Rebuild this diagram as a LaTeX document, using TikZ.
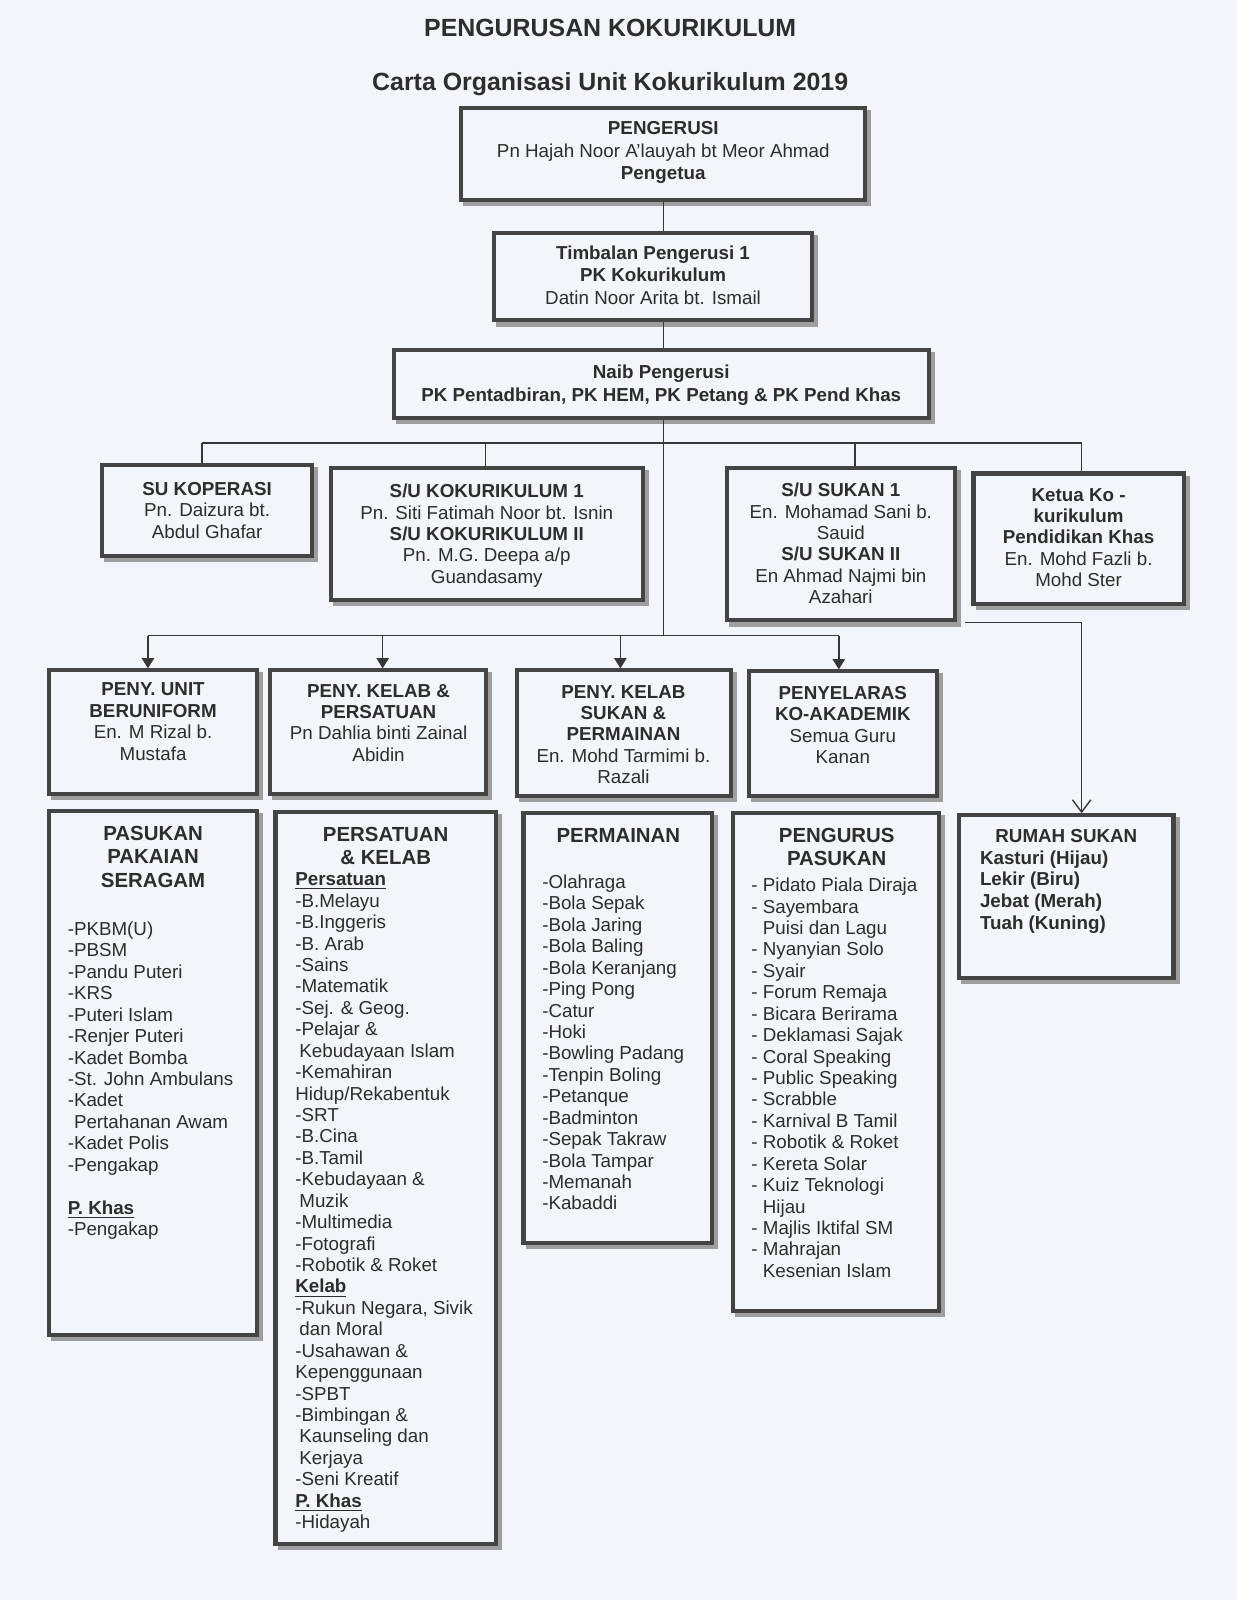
\documentclass[tikz,border=0pt]{standalone}
\usepackage{fontspec}
\setmainfont{Liberation Sans}
\usetikzlibrary{arrows.meta,fit}
\definecolor{bgc}{RGB}{242,245,250}
\definecolor{boxc}{RGB}{68,68,68}
\definecolor{shadc}{RGB}{158,158,158}
\definecolor{txtc}{RGB}{45,45,45}
\definecolor{linec}{RGB}{55,55,55}
\begin{document}
\begin{tikzpicture}[x=0.5pt,y=-0.5pt,
  box/.style={draw=boxc, line width=2pt, fill=bgc, inner sep=0pt, outer sep=1pt,
    preaction={draw=shadc, fill=none, line width=2pt, transform canvas={shift={(2pt,-2pt)}}}},
  t/.style={text=txtc, font=\fontsize{9.2}{10.5}\selectfont, align=center, inner sep=0pt, anchor=north},
  ttop/.style={t, font=\fontsize{9.2}{11}\selectfont},
  tl/.style={t, align=left, anchor=north west},
  tlb/.style={tl, font=\bfseries\fontsize{9.2}{10.7}\selectfont},
  hd/.style={t, font=\bfseries\fontsize{10}{11.5}\selectfont},
  ttl/.style={text=txtc, font=\bfseries\fontsize{12.2}{14}\selectfont, inner sep=0pt, anchor=base},
  conn/.style={draw=linec, line width=0.7pt},
  arr/.style={conn, -{Triangle[length=5pt,width=6pt]}},
  oarr/.style={conn, -{Straight Barb[length=6pt,width=9pt]}}
]
\fill[bgc] (0,0) rectangle (1212,1568);
\useasboundingbox (0,0) rectangle (1212,1568);

% titles
\node[ttl] (title1) at (598,36) {PENGURUSAN KOKURIKULUM};
\node[ttl] (title2) at (598,89) {Carta Organisasi Unit Kokurikulum 2019};

% boxes
\node[box, fit={(452,106) (848,196)}] (peng) {};
\node[box, fit={(484,228) (796,314)}] (timb) {};
\node[box, fit={(386,343) (910,410)}] (naib) {};
\node[box, fit={(100,456) (306,545)}] (kop) {};
\node[box, fit={(324,459) (630,588)}] (kok) {};
\node[box, fit={(712,459) (936,608)}] (sukan) {};
\node[box, fit={(954,464) (1160,592)}] (ketua) {};
\node[box, fit={(48,657) (252,778)}] (uni) {};
\node[box, fit={(265,657) (476,778)}] (kp) {};
\node[box, fit={(507,657) (716,780)}] (ks) {};
\node[box, fit={(734,658) (918,780)}] (ka) {};
\node[box, fit={(48,795) (252,1308)}] (pas) {};
\node[box, fit={(270,796) (486,1513)}] (pk) {};
\node[box, fit={(513,797) (698,1218)}] (per) {};
\node[box, fit={(718,797) (920,1285)}] (pp) {};
\node[box, fit={(940,799) (1150,958)}] (rumah) {};

% box texts
\node[ttop] (pengT) at (650,119) {\textbf{PENGERUSI}\\Pn Hajah Noor A’lauyah bt Meor Ahmad\\\textbf{Pengetua}};
\node[t, font=\fontsize{9.2}{10.8}\selectfont] (timbT) at (640,241) {\textbf{Timbalan Pengerusi 1}\\\textbf{PK Kokurikulum}\\Datin Noor Arita bt. Ismail};
\node[t, font=\fontsize{9.2}{11.5}\selectfont] (naibT) at (648,357) {\textbf{Naib Pengerusi}\\\textbf{PK Pentadbiran, PK HEM, PK Petang \& PK Pend Khas}};
\node[t] (kopT) at (203,472) {\textbf{SU KOPERASI}\\Pn. Daizura bt.\\Abdul Ghafar};
\node[t] (kokT) at (477,474) {\textbf{S/U KOKURIKULUM 1}\\Pn. Siti Fatimah Noor bt. Isnin\\\textbf{S/U KOKURIKULUM II}\\Pn. M.G. Deepa a/p\\Guandasamy};
\node[t] (sukanT) at (824,473) {\textbf{S/U SUKAN 1}\\En. Mohamad Sani b.\\Sauid\\\textbf{S/U SUKAN II}\\En Ahmad Najmi bin\\Azahari};
\node[t] (ketuaT) at (1057,478) {\textbf{Ketua Ko -}\\\textbf{kurikulum}\\\textbf{Pendidikan Khas}\\En. Mohd Fazli b.\\Mohd Ster};
\node[t] (uniT) at (150,669) {\textbf{PENY. UNIT}\\\textbf{BERUNIFORM}\\En. M Rizal b.\\Mustafa};
\node[t] (kpT) at (371,670) {\textbf{PENY. KELAB \&}\\\textbf{PERSATUAN}\\Pn Dahlia binti Zainal\\Abidin};
\node[t] (ksT) at (611,671) {\textbf{PENY. KELAB}\\\textbf{SUKAN \&}\\\textbf{PERMAINAN}\\En. Mohd Tarmimi b.\\Razali};
\node[t] (kaT) at (826,672) {\textbf{PENYELARAS}\\\textbf{KO-AKADEMIK}\\Semua Guru\\Kanan};

% list boxes
\node[hd] (pasH) at (150,809) {PASUKAN\\PAKAIAN\\SERAGAM};
\node[tl] (pasL) at (66,903) {-PKBM(U)\\-PBSM\\-Pandu Puteri\\-KRS\\-Puteri Islam\\-Renjer Puteri\\-Kadet Bomba\\-St. John Ambulans\\-Kadet\\\hphantom{-}Pertahanan Awam\\-Kadet Polis\\-Pengakap\\[10.5pt]\underline{\textbf{P. Khas}}\\-Pengakap};

\node[hd] (pkH) at (378,810) {PERSATUAN\\\& KELAB};
\node[tl] (pkL) at (289,855) {\underline{\textbf{Persatuan}}\\-B.Melayu\\-B.Inggeris\\-B. Arab\\-Sains\\-Matematik\\-Sej. \& Geog.\\-Pelajar \&\\\kern2pt Kebudayaan Islam\\-Kemahiran\\Hidup/Rekabentuk\\-SRT\\-B.Cina\\-B.Tamil\\-Kebudayaan \&\\\kern2pt Muzik\\-Multimedia\\-Fotografi\\-Robotik \& Roket\\\underline{\textbf{Kelab}}\\-Rukun Negara, Sivik\\\kern2pt dan Moral\\-Usahawan \&\\Kepenggunaan\\-SPBT\\-Bimbingan \&\\\kern2pt Kaunseling dan\\\kern2pt Kerjaya\\-Seni Kreatif\\\underline{\textbf{P. Khas}}\\-Hidayah};

\node[hd] (perH) at (606,811) {PERMAINAN};
\node[tl] (perL) at (531,857) {-Olahraga\\-Bola Sepak\\-Bola Jaring\\-Bola Baling\\-Bola Keranjang\\-Ping Pong\\-Catur\\-Hoki\\-Bowling Padang\\-Tenpin Boling\\-Petanque\\-Badminton\\-Sepak Takraw\\-Bola Tampar\\-Memanah\\-Kabaddi};

\node[hd] (ppH) at (820,811) {PENGURUS\\PASUKAN};
\node[tl] (ppL) at (736,860) {- Pidato Piala Diraja\\- Sayembara\\\hphantom{- }Puisi dan Lagu\\- Nyanyian Solo\\- Syair\\- Forum Remaja\\- Bicara Berirama\\- Deklamasi Sajak\\- Coral Speaking\\- Public Speaking\\- Scrabble\\- Karnival B Tamil\\- Robotik \& Roket\\- Kereta Solar\\- Kuiz Teknologi\\\hphantom{- }Hijau\\- Majlis Iktifal SM\\- Mahrajan\\\hphantom{- }Kesenian Islam};

\node[t] (rumahH) at (1045,812) {\textbf{RUMAH SUKAN}};
\node[tlb] (rumahL) at (960,833) {Kasturi (Hijau)\\Lekir (Biru)\\Jebat (Merah)\\Tuah (Kuning)};

% connectors
\draw[conn] (peng.south) -- (peng.south |- timb.north);
\draw[conn] (peng.south |- timb.south) -- (peng.south |- naib.north);
\coordinate (j1) at (650,434);
\coordinate (j2) at (650,623);
\draw[conn] (j1 |- naib.south) -- (j2);
\coordinate (h1a) at (198,434);
\coordinate (h1b) at (1060,434);
\coordinate (d2) at (476,434);
\coordinate (d3) at (838,434);
\draw[conn] (h1a) -- (h1b);
\draw[conn] (h1a) -- (h1a |- kop.north);
\draw[conn] (d2) -- (d2 |- kok.north);
\draw[conn] (d3) -- (d3 |- sukan.north);
\draw[conn] (h1b) -- (h1b |- ketua.north);

\coordinate (a1) at (145,623);
\coordinate (a2) at (375,623);
\coordinate (a3) at (608,623);
\coordinate (a4) at (822,623);
\draw[conn] (a1) -- (a4);
\draw[arr] (a1) -- (a1 |- uni.north);
\draw[arr] (a2) -- (a2 |- kp.north);
\draw[arr] (a3) -- (a3 |- ks.north);
\draw[arr] (a4) -- (a4 |- ka.north);

\coordinate (r1) at (946,610);
\coordinate (r2) at (1060,610);
\draw[oarr] (r1) -- (r2) -- (r2 |- rumah.north);
\end{tikzpicture}
\end{document}
